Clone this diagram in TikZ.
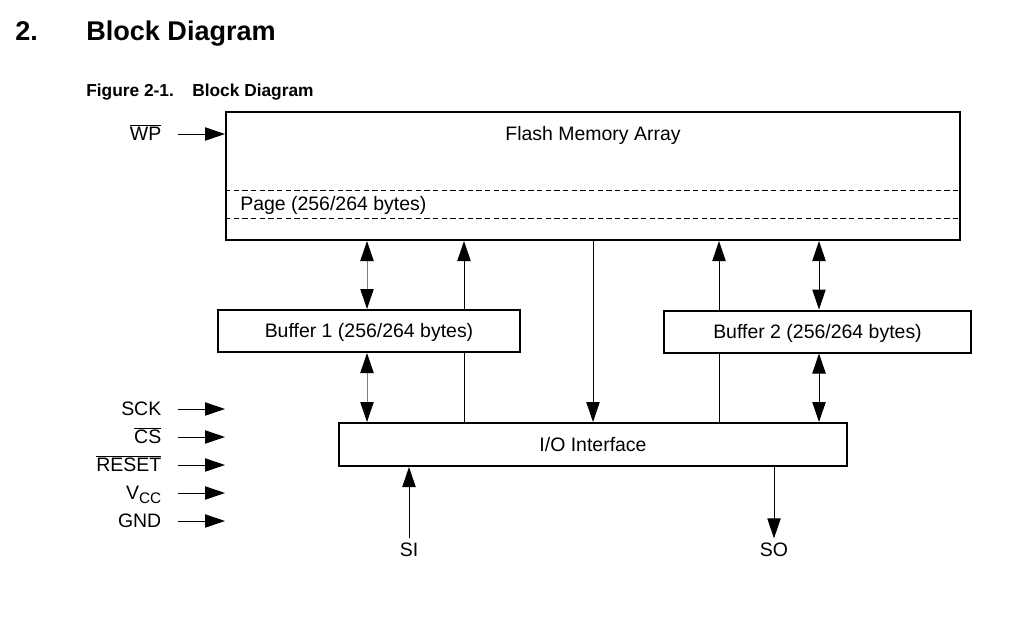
\documentclass[tikz,border=0pt]{standalone}
\usepackage{fontspec}
\setmainfont{Liberation Sans}
\usetikzlibrary{arrows.meta}
\usetikzlibrary{positioning}
\tikzstyle{block}=[draw, fill=white, line width=1.5pt, inner sep=0pt]
\tikzstyle{txt}=[font={\fontsize{14.6}{17}\selectfont}, text height=10.4pt, text depth=0pt]
\tikzstyle{pin}=[txt, anchor=east]
\tikzstyle{head}=[font={\fontsize{20.3}{24}\selectfont\bfseries}, anchor=base west, inner sep=0pt]
\tikzstyle{caption}=[font={\fontsize{13}{15}\selectfont\bfseries}, anchor=base west, inner sep=0pt]
\tikzstyle{link}=[-{Triangle[length=15pt, width=10pt]}, line width=.75pt]
\tikzstyle{dlink}=[{Triangle[length=15pt, width=10pt, color=black]}-{Triangle[length=15pt, width=10pt, color=black]}, line width=.75pt]
\tikzstyle{pageline}=[dash pattern=on 4pt off 2.5pt, line width=.6pt]

\begin{document}
\begin{tikzpicture}[x=0.75pt, y=-0.75pt]

    \useasboundingbox (0,0) rectangle (1025,640);

    % headings
    \node[head] (secnum) at (15,40) {2.};
    \node[head] (sectitle) at (86,40) {Block Diagram};
    \node[caption] (fignum) at (86,96) {Figure 2-1.};
    \node[caption] (figtitle) at (192,96) {Block Diagram};

    % blocks
    \node[block, minimum width=550.5pt, minimum height=96pt] (flash) at (593,176) {};
    \node[txt] (flashlbl) at (593,134) {Flash Memory Array};
    \node[block, txt, minimum width=226.5pt, minimum height=31.5pt] (buf1) at (369,331) {Buffer 1 (256/264 bytes)};
    \node[block, txt, minimum width=230.25pt, minimum height=31.5pt] (buf2) at (817.5,331.5) {Buffer 2 (256/264 bytes)};
    \node[block, txt, minimum width=381pt, minimum height=32.25pt] (io) at (593,444.5) {I/O Interface};

    % page inside the array
    \coordinate (pagetop) at (226,190);
    \coordinate (pagebot) at (226,218);
    \draw[pageline] (pagetop -| flash.west) -- (pagetop -| flash.east);
    \draw[pageline] (pagebot -| flash.west) -- (pagebot -| flash.east);
    \node[txt, anchor=west, inner sep=0pt] (pagelbl) at (240,204) {Page (256/264 bytes)};

    % buses
    \coordinate (bus1) at (367,0);
    \coordinate (up1) at (464,0);
    \coordinate (down) at (593,0);
    \coordinate (up2) at (719,0);
    \coordinate (bus2) at (819,0);

    \draw[dlink, gray] (bus1 |- flash.south) -- (bus1 |- buf1.north);
    \draw[dlink, gray] (bus1 |- buf1.south) -- (bus1 |- io.north);
    \draw[line width=.75pt] (up1 |- io.north) -- (up1 |- buf1.south);
    \draw[link] (up1 |- buf1.north) -- (up1 |- flash.south);
    \draw[link] (down |- flash.south) -- (down |- io.north);
    \draw[line width=.75pt] (up2 |- io.north) -- (up2 |- buf2.south);
    \draw[link] (up2 |- buf2.north) -- (up2 |- flash.south);
    \draw[dlink] (bus2 |- flash.south) -- (bus2 |- buf2.north);
    \draw[dlink] (bus2 |- buf2.south) -- (bus2 |- io.north);

    % serial pins
    \node[txt] (si) at (409,550) {SI};
    \node[txt] (so) at (774,550) {SO};
    \draw[link] (si) -- (si |- io.south);
    \draw[link] (io.south -| so) -- (so);

    % control pins
    \node[pin] (wp) at (166,134) {$\overline{\mbox{WP}}$};
    \node[pin] (sck) at (166,409) {SCK};
    \node[pin] (cs) at (166,437) {$\overline{\mbox{CS}}$};
    \node[pin] (reset) at (166,465) {$\overline{\mbox{RESET}}$};
    \node[pin] (vcc) at (166,493) {V\raisebox{-0.35ex}{\fontsize{11.5}{12}\selectfont CC}};
    \node[pin] (gnd) at (166,521) {GND};

    \coordinate (pinend) at (225,0);
    \draw[link, shorten <=9pt] (wp) -- (wp -| flash.west);
    \draw[link, shorten <=9pt] (sck) -- (sck -| pinend);
    \draw[link, shorten <=9pt] (cs) -- (cs -| pinend);
    \draw[link, shorten <=9pt] (reset) -- (reset -| pinend);
    \draw[link, shorten <=9pt] (vcc) -- (vcc -| pinend);
    \draw[link, shorten <=9pt] (gnd) -- (gnd -| pinend);

\end{tikzpicture}
\end{document}
